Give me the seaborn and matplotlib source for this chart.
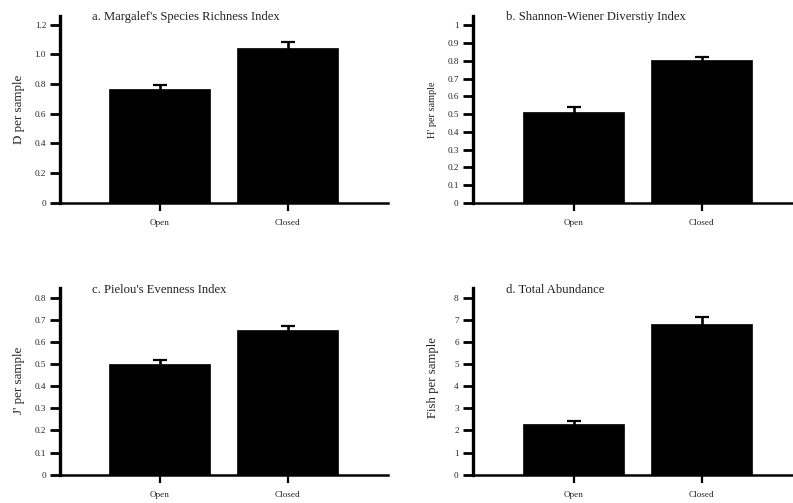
import matplotlib
matplotlib.use("Agg")
import matplotlib.pyplot as plt
import seaborn as sns
import pandas as pd

sns.set_style("ticks")
plt.rcParams["font.family"] = ["Liberation Serif", "DejaVu Serif"]

habitats = ["Open", "Closed"]

richness_mean = [0.764, 1.044]
richness_se = [0.031, 0.037]

shannon_mean = [0.511, 0.804]
shannon_se = [0.030, 0.021]

evenness_mean = [0.502, 0.654]
evenness_se = [0.015, 0.017]

abundance_mean = [2.30, 6.81]
abundance_se = [0.13, 0.33]

richness_ticks = [0, 0.2, 0.4, 0.6, 0.8, 1.0, 1.2]
richness_ticklabels = ["0", "0.2", "0.4", "0.6", "0.8", "1.0", "1.2"]
shannon_ticks = [0, 0.1, 0.2, 0.3, 0.4, 0.5, 0.6, 0.7, 0.8, 0.9, 1.0]
shannon_ticklabels = ["0", "0.1", "0.2", "0.3", "0.4", "0.5", "0.6", "0.7", "0.8", "0.9", "1"]
evenness_ticks = [0, 0.1, 0.2, 0.3, 0.4, 0.5, 0.6, 0.7, 0.8]
evenness_ticklabels = ["0", "0.1", "0.2", "0.3", "0.4", "0.5", "0.6", "0.7", "0.8"]
abundance_ticks = [0, 1, 2, 3, 4, 5, 6, 7, 8]
abundance_ticklabels = ["0", "1", "2", "3", "4", "5", "6", "7", "8"]

panels = [
    dict(rect=[0.0757, 0.597, 0.4133, 0.371], title="a. Margalef's Species Richness Index",
         ylabel="D per sample", ylsize=9.4, mean=richness_mean, se=richness_se,
         ticks=richness_ticks, labels=richness_ticklabels, ytop=1.258, xlim=(-0.78, 1.78),
         ylab_x=-0.108, ylab_y=0.5, title_x=0.098),
    dict(rect=[0.596, 0.597, 0.4035, 0.371], title="b. Shannon-Wiener Diverstiy Index",
         ylabel="H' per sample", ylsize=7.4, mean=shannon_mean, se=shannon_se,
         ticks=shannon_ticks, labels=shannon_ticklabels, ytop=1.053, xlim=(-0.79, 1.71),
         ylab_x=-0.11, ylab_y=0.5, title_x=0.104),
    dict(rect=[0.0757, 0.0563, 0.4133, 0.3707], title="c. Pielou's Evenness Index",
         ylabel="J' per sample", ylsize=9.4, mean=evenness_mean, se=evenness_se,
         ticks=evenness_ticks, labels=evenness_ticklabels, ytop=0.842, xlim=(-0.78, 1.78),
         ylab_x=-0.108, ylab_y=0.508, title_x=0.098),
    dict(rect=[0.596, 0.0563, 0.4035, 0.3707], title="d. Total Abundance",
         ylabel="Fish per sample", ylsize=9.2, mean=abundance_mean, se=abundance_se,
         ticks=abundance_ticks, labels=abundance_ticklabels, ytop=8.42, xlim=(-0.79, 1.71),
         ylab_x=-0.106, ylab_y=0.52, title_x=0.104),
]

fig = plt.figure(figsize=(7.93, 5.03), dpi=100)

for p in panels:
    ax = fig.add_axes(p["rect"])
    df = pd.DataFrame({"habitat": habitats, "value": p["mean"]})
    sns.barplot(data=df, x="habitat", y="value", order=habitats, color="black",
                width=0.79, errorbar=None, saturation=1, edgecolor="black",
                linewidth=0.5, ax=ax, zorder=2)
    # symmetric SE bars; the lower half sits inside the black bar
    ax.errorbar(range(len(habitats)), p["mean"], yerr=p["se"], fmt="none",
                ecolor="black", elinewidth=1.9, capsize=5, capthick=1.6, zorder=1)

    ax.set_xlim(*p["xlim"])
    ax.set_ylim(0, p["ytop"])
    ax.set_yticks(p["ticks"])
    ax.set_yticklabels(p["labels"])
    ax.set_xlabel("")
    ax.set_ylabel(p["ylabel"], fontsize=p["ylsize"], color="#222222")
    ax.yaxis.set_label_coords(p["ylab_x"], p["ylab_y"])

    for side in ["top", "right"]:
        ax.spines[side].set_visible(False)
    ax.spines["left"].set_linewidth(2.4)
    ax.spines["bottom"].set_linewidth(1.8)
    ax.spines["left"].set_color("black")
    ax.spines["bottom"].set_color("black")

    ax.tick_params(axis="y", direction="out", length=7.5, width=2.0, pad=2.5,
                   labelsize=6.6, colors="black", labelcolor="#222222")
    ax.tick_params(axis="x", direction="out", length=6, width=1.6, pad=6,
                   labelsize=6.6, colors="black", labelcolor="#222222")

    ax.text(p["title_x"], 0.993, p["title"], transform=ax.transAxes, fontsize=9.1,
            ha="left", va="center", color="#222222")

fig.savefig("out.png", dpi=100)
